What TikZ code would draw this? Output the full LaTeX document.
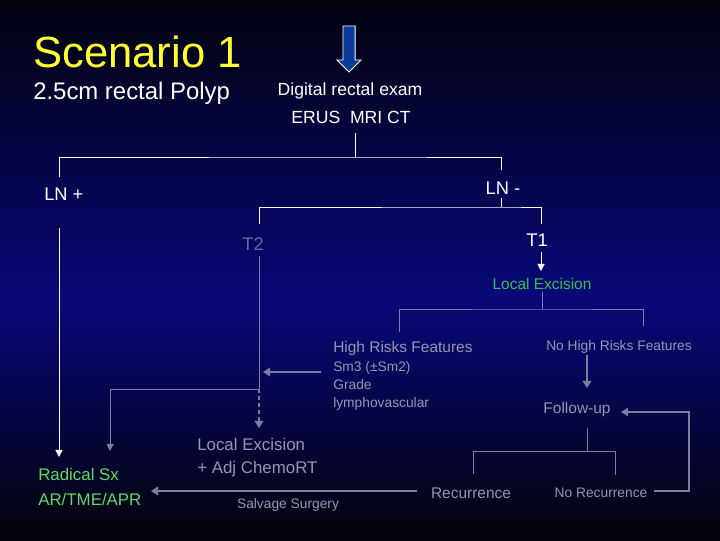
\documentclass[tikz,border=0pt]{standalone}
\usepackage{fontspec}
\setmainfont{Liberation Sans}
\usetikzlibrary{arrows.meta}

\definecolor{bgtop}{RGB}{2,2,14}
\definecolor{bgmid}{RGB}{8,8,122}
\definecolor{bgbot}{RGB}{3,3,10}
\definecolor{scenyellow}{RGB}{255,255,50}
\definecolor{lgray}{RGB}{125,125,160}
\definecolor{tgray}{RGB}{150,150,178}
\definecolor{tgrayd}{RGB}{105,105,150}
\definecolor{legreen}{RGB}{60,190,80}
\definecolor{rxgreen}{RGB}{100,215,100}
\definecolor{arrowblue}{RGB}{12,58,155}

\tikzset{
  every node/.style={inner sep=0pt},
  titletxt/.style={font=\fontsize{31}{37}\selectfont, text=scenyellow},
  subtxt/.style={font=\fontsize{17}{20}\selectfont, text=white},
  headtxt/.style={font=\fontsize{12.5}{15}\selectfont, text=white},
  lntxt/.style={font=\fontsize{13}{15}\selectfont, text=white},
  midtxt/.style={font=\fontsize{11}{13}\selectfont, text=tgray},
  smalltxt/.style={font=\fontsize{9.8}{12}\selectfont, text=tgray},
  bigtxt/.style={font=\fontsize{12}{14}\selectfont, text=tgray},
  wline/.style={draw=white, line width=0.7pt},
  warrow/.style={wline, -{Triangle[width=5pt,length=5pt]}},
  gline/.style={draw=lgray, line width=0.7pt},
  garrow/.style={draw=lgray, line width=1.5pt, -{Triangle[width=6pt,length=5pt]}}
}

\begin{document}
\begin{tikzpicture}[x=0.025cm,y=-0.025cm]
    \useasboundingbox (0,0) rectangle (720,540);
    % Background
    \shade[top color=bgtop, bottom color=bgmid] (0,0) rectangle (720,300);
    \shade[top color=bgmid, bottom color=bgbot] (0,300) rectangle (720,540);
    % Title
    \node[titletxt, anchor=base west] (scen) at (33,67) {Scenario 1};
    \node[subtxt, anchor=base west] (polyp) at (33,99) {2.5cm rectal Polyp};
    % Blue arrow
    \draw[white, line width=0.7pt, fill=arrowblue] (343,26) -- (355,26) -- (355,60) -- (361,60)
        -- (349,72) -- (337,60) -- (343,60) -- cycle;
    % Work-up
    \node[headtxt, anchor=base] (dre) at (350,95) {Digital rectal exam};
    \node[headtxt, anchor=base] (erus) at (351,123) {ERUS\ \ MRI CT};
    % Nodal status
    \node[lntxt, anchor=base west] (lnp) at (44,200) {LN +};
    \node[lntxt, anchor=base] (lnm) at (503,194) {LN -};
    \node[lntxt, anchor=base, text=tgrayd] (t2) at (253,250) {T2};
    \node[lntxt, anchor=base] (t1) at (537,246) {T1};
    \node[font=\fontsize{11}{13}\selectfont, text=legreen, anchor=base] (le) at (542,289) {Local Excision};
    % Risk features
    \node[midtxt, anchor=base west] (hr) at (333,352) {High Risks Features};
    \node[smalltxt, anchor=base west] (sm) at (333,371) {Sm3 (±Sm2)};
    \node[smalltxt, anchor=base west] (grade) at (333,389) {Grade};
    \node[smalltxt, anchor=base west] (lymph) at (333,407) {lymphovascular};
    \node[smalltxt, anchor=base] (nhr) at (619,350) {No High Risks Features};
    \node[midtxt, anchor=base] (fu) at (577,413) {Follow-up};
    \node[midtxt, anchor=base] (rec) at (471,498) {Recurrence};
    \node[smalltxt, anchor=base] (norec) at (601,497) {No Recurrence};
    % Treatments
    \node[bigtxt, anchor=base west] (lex) at (197,450) {Local Excision};
    \node[bigtxt, anchor=base west] (adj) at (197,473) {+ Adj ChemoRT};
    \node[smalltxt, anchor=base] (salv) at (288,508) {Salvage Surgery};
    \node[font=\fontsize{12}{14}\selectfont, text=rxgreen, anchor=base west] (rad) at (38,480) {Radical Sx};
    \node[font=\fontsize{12}{14}\selectfont, text=rxgreen, anchor=base west] (apr) at (38,505) {AR/TME/APR};

    % Branch points
    \coordinate (dreDown) at (355,133);
    \coordinate (lnSplit) at (355,157);
    \coordinate (lnpTop) at (59,177);
    \coordinate (lnmTop) at (501,170);
    \coordinate (lnmBot) at (501,198);
    \coordinate (tSplit) at (501,207);
    \coordinate (t2Top) at (259,224);
    \coordinate (t1Top) at (541,224);
    \coordinate (lnpBot) at (59,228);
    \coordinate (radTip) at (59,457);
    \coordinate (t1Bot) at (541,252);
    \coordinate (leTip) at (541,271);
    \coordinate (leDown) at (542,292);
    \coordinate (leSplit) at (542,309);
    \coordinate (hrTop) at (399,332);
    \coordinate (nhrTop) at (643,326);
    \coordinate (t2Bot) at (259,256);
    \coordinate (t2Mid) at (259,389);
    \coordinate (radTip2) at (110,451);
    \coordinate (lexTip) at (259,428);
    \coordinate (hrLeft) at (321,372);
    \coordinate (t2Tip) at (263,372);
    \coordinate (nhrBot) at (587,355);
    \coordinate (fuTip) at (587,388);
    \coordinate (fuDown) at (587,428);
    \coordinate (fuSplit) at (587,451);
    \coordinate (recTop) at (473,474);
    \coordinate (norecTop) at (615,475);
    \coordinate (norecRight) at (654,491);
    \coordinate (loopTop) at (689,412);
    \coordinate (fuRight) at (621,412);
    \coordinate (recLeft) at (417,491);
    \coordinate (aprTip) at (151,491);

    % Connectors
    \draw[wline] (dreDown) -- (lnSplit);
    \draw[wline] (lnpTop) |- (lnSplit) -| (lnmTop);
    \draw[wline] (lnmBot) -- (tSplit);
    \draw[wline] (t2Top) |- (tSplit) -| (t1Top);
    \draw[warrow] (lnpBot) -- (radTip);
    \draw[warrow] (t1Bot) -- (leTip);
    \draw[gline] (leDown) -- (leSplit);
    \draw[gline] (hrTop) |- (leSplit) -| (nhrTop);
    \draw[gline] (t2Bot) -- (t2Mid);
    \draw[gline, -{Triangle[width=5pt,length=5pt]}] (t2Mid) -| (radTip2);
    \draw[garrow, dash pattern=on 3pt off 2pt] (t2Mid) -- (lexTip);
    \draw[garrow] (hrLeft) -- (t2Tip);
    \draw[garrow] (nhrBot) -- (fuTip);
    \draw[gline] (fuDown) -- (fuSplit);
    \draw[gline] (recTop) |- (fuSplit) -| (norecTop);
    \draw[gline, line width=1pt, -{Triangle[width=6pt,length=5pt]}] (norecRight) -| (loopTop) -- (fuRight);
    \draw[garrow] (recLeft) -- (aprTip);
\end{tikzpicture}
\end{document}
